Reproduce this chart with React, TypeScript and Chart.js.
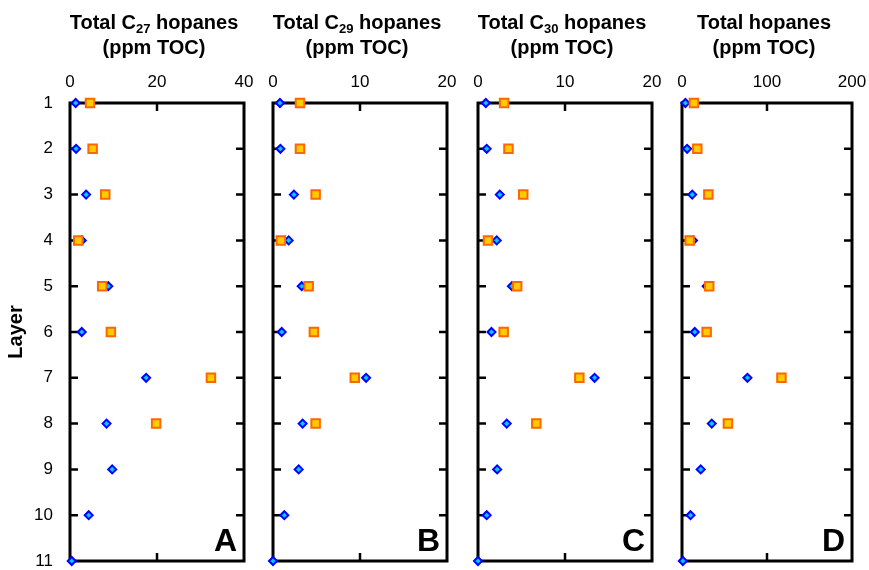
import React, { useEffect, useRef } from 'react';
import { Chart, registerables } from 'chart.js';

Chart.register(...registerables);

// Layer numbers down the depth axis
const layers = [1, 2, 3, 4, 5, 6, 7, 8, 9, 10, 11];
const layerTicks = [1, 2, 3, 4, 5, 6, 7, 8, 9, 10, 11];

// Total C27 hopanes (ppm TOC)
const c27Diamonds = [1.3, 1.4, 3.7, 2.7, 8.8, 2.7, 17.5, 8.4, 9.7, 4.3, 0.4];
const c27Squares = [4.6, 5.2, 8.1, 1.9, 7.4, 9.4, 32.4, 19.8];

// Total C29 hopanes (ppm TOC)
const c29Diamonds = [0.8, 0.85, 2.4, 1.8, 3.3, 1.0, 10.7, 3.4, 2.95, 1.3, 0];
const c29Squares = [3.1, 3.1, 4.9, 0.9, 4.1, 4.7, 9.4, 4.9];

// Total C30 hopanes (ppm TOC)
const c30Diamonds = [0.9, 1.0, 2.5, 2.15, 3.9, 1.55, 13.4, 3.3, 2.2, 1.0, 0];
const c30Squares = [3.0, 3.5, 5.2, 1.15, 4.5, 2.95, 11.65, 6.7];

// Total hopanes (ppm TOC)
const totalDiamonds = [4, 6, 12, 13, 29, 15, 77, 35, 22, 10, 1];
const totalSquares = [14, 18, 31, 9, 32, 29, 117, 54];

// Top-axis tick values per panel
const c27Ticks = [0, 20, 40];
const c29Ticks = [0, 10, 20];
const c30Ticks = [0, 10, 20];
const totalTicks = [0, 100, 200];

const FONT = '"Liberation Sans", Arial, Helvetica, sans-serif';

type TitlePart = { text: string; sub?: boolean };

type Panel = {
  id: string;
  letter: string;
  title: TitlePart[];
  ticks: number[];
  diamonds: number[];
  squares: number[];
  canvasLeft: number;
  canvasWidth: number;
  plotLeft: number;
  plotRight: number;
  showLayerAxis: boolean;
};

const panels: Panel[] = [
  {
    id: 'a', letter: 'A',
    title: [{ text: 'Total C' }, { text: '27', sub: true }, { text: ' hopanes' }],
    ticks: c27Ticks, diamonds: c27Diamonds, squares: c27Squares,
    canvasLeft: 0, canvasWidth: 258, plotLeft: 70, plotRight: 244, showLayerAxis: true,
  },
  {
    id: 'b', letter: 'B',
    title: [{ text: 'Total C' }, { text: '29', sub: true }, { text: ' hopanes' }],
    ticks: c29Ticks, diamonds: c29Diamonds, squares: c29Squares,
    canvasLeft: 258, canvasWidth: 204, plotLeft: 273, plotRight: 447, showLayerAxis: false,
  },
  {
    id: 'c', letter: 'C',
    title: [{ text: 'Total C' }, { text: '30', sub: true }, { text: ' hopanes' }],
    ticks: c30Ticks, diamonds: c30Diamonds, squares: c30Squares,
    canvasLeft: 462, canvasWidth: 205, plotLeft: 478, plotRight: 652, showLayerAxis: false,
  },
  {
    id: 'd', letter: 'D',
    title: [{ text: 'Total hopanes' }],
    ticks: totalTicks, diamonds: totalDiamonds, squares: totalSquares,
    canvasLeft: 667, canvasWidth: 202, plotLeft: 682, plotRight: 852, showLayerAxis: false,
  },
];

const CANVAS_HEIGHT = 570;
const PLOT_TOP = 103;
const PLOT_BOTTOM = 561;
const X_AXIS_HEIGHT = 40;

// Keep label overhang from shrinking the plot box
const clearScalePadding = (s: any) => {
  s.paddingLeft = 0;
  s.paddingRight = 0;
  s.paddingTop = 0;
  s.paddingBottom = 0;
};

function PanelChart({ panel }: { panel: Panel }) {
  const ref = useRef<HTMLCanvasElement>(null);

  useEffect(() => {
    const canvas = ref.current;
    if (!canvas) return;
    const yAxisWidth = panel.plotLeft - panel.canvasLeft;
    const rightPad = panel.canvasWidth - (panel.plotRight - panel.canvasLeft);
    const xMin = panel.ticks[0];
    const xMax = panel.ticks[panel.ticks.length - 1];
    const xStep = panel.ticks[1] - panel.ticks[0];

    // Frame and inward-pointing tick marks, drawn under the markers
    const framePlugin = {
      id: 'frame-' + panel.id,
      beforeDatasetsDraw(chart: any) {
        const { ctx, chartArea } = chart;
        const xs = chart.scales.x;
        const ys = chart.scales.y;
        const len = 8;
        ctx.save();
        ctx.strokeStyle = '#000';
        ctx.lineCap = 'butt';
        ctx.lineWidth = 2.5;
        ctx.beginPath();
        panel.ticks.slice(1, -1).forEach((v) => {
          const px = xs.getPixelForValue(v);
          ctx.moveTo(px, chartArea.top);
          ctx.lineTo(px, chartArea.top + len);
          ctx.moveTo(px, chartArea.bottom);
          ctx.lineTo(px, chartArea.bottom - len);
        });
        layerTicks.slice(1, -1).forEach((v) => {
          const py = ys.getPixelForValue(v);
          ctx.moveTo(chartArea.left, py);
          ctx.lineTo(chartArea.left + len, py);
          ctx.moveTo(chartArea.right, py);
          ctx.lineTo(chartArea.right - len, py);
        });
        ctx.stroke();
        ctx.lineWidth = 3;
        ctx.strokeRect(chartArea.left, chartArea.top, chartArea.right - chartArea.left, chartArea.bottom - chartArea.top);
        ctx.restore();
      },
      afterDraw(chart: any) {
        const { ctx, chartArea } = chart;
        ctx.save();
        ctx.fillStyle = '#000';
        // Panel letter
        ctx.font = `bold 32px ${FONT}`;
        ctx.textAlign = 'right';
        ctx.textBaseline = 'alphabetic';
        ctx.fillText(panel.letter, chartArea.right - 7, chartArea.bottom - 10);

        // Two-line heading with subscript carbon number
        const cx = (chartArea.left + chartArea.right) / 2 - 3;
        const mainFont = `bold 20px ${FONT}`;
        const subFont = `bold 13px ${FONT}`;
        ctx.textAlign = 'left';
        let total = 0;
        const widths = panel.title.map((p) => {
          ctx.font = p.sub ? subFont : mainFont;
          const w = ctx.measureText(p.text).width;
          total += w;
          return w;
        });
        let x = cx - total / 2;
        panel.title.forEach((p, i) => {
          ctx.font = p.sub ? subFont : mainFont;
          ctx.fillText(p.text, x, 29 + (p.sub ? 4 : 0));
          x += widths[i];
        });
        ctx.font = mainFont;
        ctx.textAlign = 'center';
        ctx.fillText('(ppm TOC)', cx, 53.5);
        ctx.restore();
      },
    };

    const chart = new Chart(canvas, {
      type: 'scatter',
      data: {
        datasets: [
          {
            label: 'squares',
            data: panel.squares.map((v, i) => ({ x: v, y: layers[i] })),
            pointStyle: 'rect',
            pointRadius: 6,
            pointHoverRadius: 6,
            backgroundColor: '#FFCC00',
            borderColor: '#FF6600',
            borderWidth: 2,
            order: 0,
            clip: false,
          },
          {
            label: 'diamonds',
            data: panel.diamonds.map((v, i) => ({ x: v, y: layers[i] })),
            pointStyle: 'rectRot',
            pointRadius: 4,
            pointHoverRadius: 4,
            backgroundColor: '#00CCFF',
            borderColor: '#0000FF',
            borderWidth: 2,
            order: 1,
            clip: false,
          },
        ],
      },
      options: {
        responsive: false,
        animation: false,
        devicePixelRatio: 1,
        events: [],
        layout: {
          padding: { left: 0, right: rightPad, top: PLOT_TOP - X_AXIS_HEIGHT, bottom: CANVAS_HEIGHT - PLOT_BOTTOM },
        },
        plugins: {
          legend: { display: false },
          tooltip: { enabled: false },
          title: { display: false },
        },
        scales: {
          x: {
            type: 'linear',
            position: 'top',
            min: xMin,
            max: xMax,
            ticks: {
              stepSize: xStep,
              color: '#000',
              font: { family: FONT, size: 17 },
              padding: 10,
              maxRotation: 0,
            },
            grid: { display: false, drawTicks: false },
            border: { display: false },
            afterFit: (s: any) => {
              s.height = X_AXIS_HEIGHT;
              clearScalePadding(s);
            },
          },
          y: {
            type: 'linear',
            reverse: true,
            min: layerTicks[0],
            max: layerTicks[layerTicks.length - 1],
            ticks: {
              display: panel.showLayerAxis,
              stepSize: 1,
              color: '#000',
              font: { family: FONT, size: 17, lineHeight: 1 },
              padding: 17,
            },
            grid: { display: false, drawTicks: false },
            border: { display: false },
            title: {
              display: panel.showLayerAxis,
              text: 'Layer',
              color: '#000',
              font: { family: FONT, size: 20, weight: 'bold' },
              padding: { top: 4.5, bottom: 0 },
            },
            afterFit: (s: any) => {
              s.width = yAxisWidth;
              clearScalePadding(s);
            },
          },
        },
      },
      plugins: [framePlugin],
    } as any);

    return () => chart.destroy();
  }, [panel]);

  return (
    <canvas
      ref={ref}
      width={panel.canvasWidth}
      height={CANVAS_HEIGHT}
      style={{
        position: 'absolute',
        left: panel.canvasLeft,
        top: 0,
        width: panel.canvasWidth,
        height: CANVAS_HEIGHT,
      }}
    />
  );
}

export default function App() {
  return (
    <div
      style={{
        position: 'fixed',
        left: 0,
        top: 0,
        width: 869,
        height: CANVAS_HEIGHT,
        background: '#fff',
        overflow: 'hidden',
      }}
    >
      {panels.map((p) => (
        <PanelChart key={p.id} panel={p} />
      ))}
    </div>
  );
}
